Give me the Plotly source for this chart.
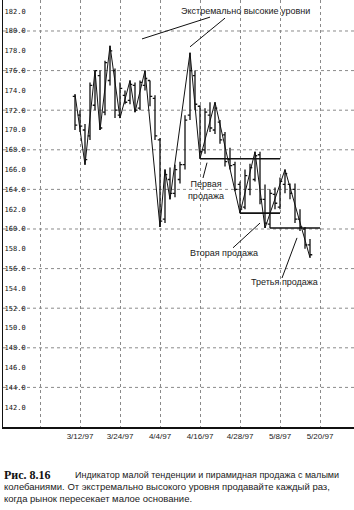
import plotly.graph_objects as go

# Trading-day calendar (x axis is one slot per trading day)
calendar = [
    "2/18/97", "2/19/97", "2/20/97", "2/21/97", "2/24/97", "2/25/97", "2/26/97", "2/27/97",
    "2/28/97", "3/3/97", "3/4/97", "3/5/97", "3/6/97", "3/7/97", "3/10/97", "3/11/97",
    "3/12/97", "3/13/97", "3/14/97", "3/17/97", "3/18/97", "3/19/97", "3/20/97", "3/21/97",
    "3/24/97", "3/25/97", "3/26/97", "3/27/97", "3/31/97", "4/1/97", "4/2/97", "4/3/97",
    "4/4/97", "4/7/97", "4/8/97", "4/9/97", "4/10/97", "4/11/97", "4/14/97", "4/15/97",
    "4/16/97", "4/17/97", "4/18/97", "4/21/97", "4/22/97", "4/23/97", "4/24/97", "4/25/97",
    "4/28/97", "4/29/97", "4/30/97", "5/1/97", "5/2/97", "5/5/97", "5/6/97", "5/7/97",
    "5/8/97", "5/9/97", "5/12/97", "5/13/97", "5/14/97", "5/15/97", "5/16/97", "5/19/97",
    "5/20/97", "5/21/97", "5/22/97", "5/23/97", "5/27/97", "5/28/97", "5/29/97", "5/30/97",
]

# Price bars
bar_dates = calendar[15:63]
opens = [173.4, 171.5, 170.0, 169.4, 172.5, 175.5, 171.8, 175.0, 176.0, 171.5,
         173.5, 173.0, 174.5, 172.2, 174.5, 175.0, 173.2, 169.0, 161.0, 165.0,
         163.6, 165.0, 166.5, 171.5, 175.5, 172.4, 168.0, 171.5, 170.0, 170.8,
         169.5, 167.0, 166.5, 164.5, 162.2, 164.0, 165.0, 167.5, 163.0, 160.5,
         163.5, 162.2, 164.5, 164.5, 164.0, 161.0, 160.0, 158.4]
highs = [173.6, 172.0, 170.6, 174.8, 176.0, 176.0, 177.0, 178.5, 176.2, 174.8,
         174.0, 175.0, 174.8, 175.0, 176.0, 175.0, 173.5, 169.2, 166.0, 166.2,
         166.5, 166.8, 171.5, 177.8, 176.0, 172.5, 172.2, 172.8, 172.8, 171.0,
         169.8, 168.2, 166.8, 164.8, 166.0, 166.6, 167.8, 167.8, 164.5, 164.0,
         164.2, 165.2, 166.0, 164.6, 164.6, 162.0, 160.2, 159.0]
lows = [170.0, 169.8, 166.5, 169.0, 172.0, 170.0, 171.5, 174.5, 171.2, 171.2,
        172.6, 172.6, 171.8, 172.0, 174.0, 172.4, 169.0, 160.2, 160.6, 163.0,
        163.2, 164.6, 166.0, 171.0, 172.0, 167.1, 167.6, 169.8, 169.6, 168.6,
        166.3, 166.0, 163.8, 161.6, 162.0, 163.4, 164.8, 162.5, 160.1, 160.1,
        162.0, 162.0, 163.6, 163.0, 160.6, 159.8, 158.0, 157.1]
closes = [170.5, 170.4, 167.0, 174.5, 176.0, 170.2, 176.8, 178.0, 172.0, 174.2,
          172.8, 174.6, 172.0, 174.8, 175.2, 173.4, 169.4, 160.8, 165.5, 163.6,
          166.0, 166.5, 171.0, 176.0, 172.6, 167.8, 171.8, 170.2, 172.2, 169.0,
          166.8, 166.4, 164.0, 162.0, 165.4, 166.2, 167.4, 163.0, 160.6, 163.6,
          162.6, 164.8, 165.6, 163.6, 161.0, 160.2, 158.4, 157.4]

# Minor-trend (swing) indicator turning points
swing_dates = ["3/11/97", "3/13/97", "3/17/97", "3/18/97", "3/20/97", "3/24/97",
               "3/26/97", "3/27/97", "4/1/97", "4/4/97", "4/7/97", "4/8/97",
               "4/14/97", "4/16/97", "4/21/97", "4/28/97", "5/1/97", "5/5/97",
               "5/9/97", "5/16/97"]
swing_prices = [173.6, 166.5, 176.0, 170.0, 178.5, 171.2, 175.0, 171.8, 176.0,
                160.2, 166.0, 163.0, 177.8, 167.1, 172.8, 161.6, 167.8, 160.1,
                166.0, 157.1]

# Pyramid sell levels (minor bottoms)
sale_levels = [167.1, 161.6, 160.1]
sale_start = ["4/16/97", "4/28/97", "5/6/97"]
sale_end = ["5/8/97", "5/8/97", "5/20/97"]

# Axis labels
y_ticks = [140 + 2 * k for k in range(22)]
grid_levels = [144 + 4 * k for k in range(10)]
x_tick_dates = ["2/28/97", "3/12/97", "3/24/97", "4/4/97", "4/16/97", "4/28/97",
                "5/8/97", "5/20/97", "5/30/97"]
x_tick_text = ["", "3/12/97", "3/24/97", "4/4/97", "4/16/97", "4/28/97",
               "5/8/97", "5/20/97", "5/30/97"]

pos = {d: i for i, d in enumerate(calendar)}

fig = go.Figure()

# swing line
fig.add_trace(go.Scatter(
    x=[pos[d] for d in swing_dates], y=swing_prices, mode="lines",
    line=dict(color="#111111", width=1), hoverinfo="skip", showlegend=False))

# sale lines
for lvl, s, e in zip(sale_levels, sale_start, sale_end):
    fig.add_trace(go.Scatter(
        x=[pos[s], pos[e]], y=[lvl, lvl], mode="lines",
        line=dict(color="#111111", width=1.6), hoverinfo="skip", showlegend=False))

fig.add_trace(go.Ohlc(
    x=[pos[d] for d in bar_dates], open=opens, high=highs, low=lows, close=closes,
    increasing=dict(line=dict(color="#111111", width=1.3)),
    decreasing=dict(line=dict(color="#111111", width=1.3)),
    tickwidth=0.45, showlegend=False))

# horizontal dotted grid
for g in grid_levels:
    fig.add_shape(type="line", xref="paper", x0=0, x1=1, yref="y", y0=g, y1=g,
                  line=dict(color="#8a8a8a", width=1, dash="dot"), layer="below")

# pointer lines
pointers = [
    (28.4, 179.2, 42.0, 181.4),
    (45.0, 181.3, 38.0, 178.4),
    (40.6, 165.15, 41.4, 166.7),
    (46.6, 158.1, 52.0, 160.6),
    (56.4, 155.05, 59.4, 159.1),
]
for x0, y0, x1, y1 in pointers:
    fig.add_shape(type="line", xref="x", yref="y", x0=x0, y0=y0, x1=x1, y1=y1,
                  line=dict(color="#111111", width=1))

lab_font = dict(family="Liberation Sans, Arial, sans-serif", size=9, color="#1a1a1a")
fig.add_annotation(x=49, y=182.0, text="Экстремально высокие уровни", showarrow=False,
                   font=lab_font, xanchor="center", yanchor="middle")
fig.add_annotation(x=41.2, y=163.9, text="Первая<br>продажа", showarrow=False,
                   font=lab_font, xanchor="center", yanchor="middle")
fig.add_annotation(x=44.8, y=157.6, text="Вторая продажа", showarrow=False,
                   font=lab_font, xanchor="center", yanchor="middle")
fig.add_annotation(x=56.8, y=154.65, text="Третья продажа", showarrow=False,
                   font=lab_font, xanchor="center", yanchor="middle")

# caption
cap_font = dict(family="Liberation Sans, Arial, sans-serif", size=9.5, color="#1a1a1a")
fig.add_annotation(xref="paper", yref="paper", x=-0.003, y=-0.1124, text="<b>Рис. 8.16</b>",
                   showarrow=False, xanchor="left", yanchor="middle",
                   font=dict(family="Liberation Serif, Times New Roman, serif", size=12, color="#111111"))
fig.add_annotation(xref="paper", yref="paper", x=0.199, y=-0.1124,
                   text="Индикатор малой тенденции и пирамидная продажа с малыми",
                   showarrow=False, xanchor="left", yanchor="middle",
                   font=dict(family="Liberation Sans, Arial, sans-serif", size=9, color="#1a1a1a"))
fig.add_annotation(xref="paper", yref="paper", x=-0.003, y=-0.1405,
                   text="колебаниями. От экстремально высокого уровня продавайте каждый раз,",
                   showarrow=False, xanchor="left", yanchor="middle", font=cap_font)
fig.add_annotation(xref="paper", yref="paper", x=-0.003, y=-0.1663,
                   text="когда рынок пересекает малое основание.",
                   showarrow=False, xanchor="left", yanchor="middle", font=cap_font)

fig.update_layout(
    width=354, height=510,
    margin=dict(l=3, r=0, t=0, b=83),
    paper_bgcolor="white", plot_bgcolor="white",
    showlegend=False,
    xaxis=dict(
        range=[0.6, 70.8],
        tickmode="array", tickvals=[pos[d] for d in x_tick_dates], ticktext=x_tick_text,
        showgrid=True, gridcolor="#8a8a8a", griddash="dot", gridwidth=1,
        showline=True, linecolor="#111111", linewidth=2,
        ticks="", zeroline=False,
        tickfont=dict(family="Liberation Sans, Arial, sans-serif", size=8, color="#1a1a1a"),
        rangeslider=dict(visible=False),
    ),
    yaxis=dict(
        range=[140, 183.13],
        tickmode="array", tickvals=y_ticks, ticktext=["%.1f" % v for v in y_ticks],
        ticklabelposition="inside", ticks="",
        showgrid=False, zeroline=False,
        showline=True, linecolor="#111111", linewidth=1,
        tickfont=dict(family="DejaVu Sans Mono, monospace", size=7, color="#111111"),
    ),
)

fig.write_html("out.html")
